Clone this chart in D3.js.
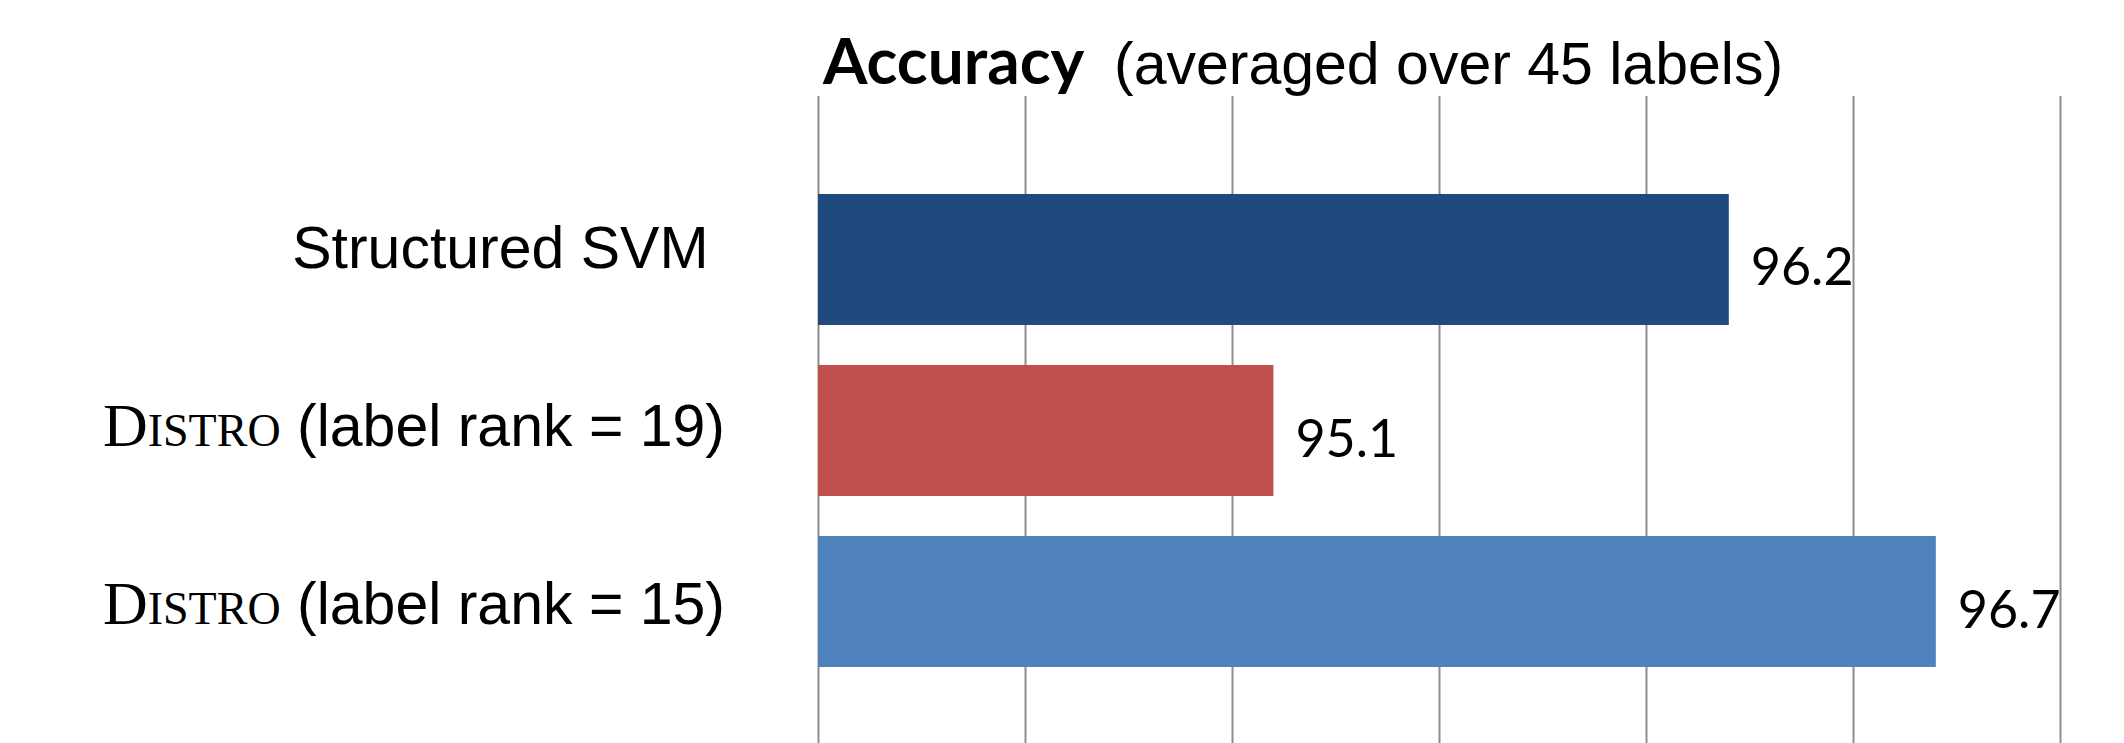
<!DOCTYPE html>
<html>
<head>
<meta charset="utf-8">
<script src="https://cdn.jsdelivr.net/npm/d3@7"></script>
<style>
  html, body { margin: 0; padding: 0; background: #ffffff; }
  svg { display: block; }
</style>
</head>
<body>
<svg id="chart" width="2124" height="743"></svg>
<script>
// ---- data ----
const categories = ["Structured SVM ", "Distro (label rank = 19)", "Distro (label rank = 15)"];
const accuracy = [96.2, 95.1, 96.7];
const barColors = ["#204A7D", "#C0504D", "#4F81BD"];
const xTicks = [94, 94.5, 95, 95.5, 96, 96.5, 97];
const xDomain = [94, 97];
const titleBold = "Accuracy";
const titleRest = "(averaged over 45 labels)";

// ---- layout ----
const W = 2124, H = 743;
const svg = d3.select("#chart");

const x = d3.scaleLinear().domain(xDomain).range([818, 2060]);
const y = d3.scaleBand().domain(categories).range([96, 765])
  .paddingInner(0.234).paddingOuter(0.573);
const yLabel = d3.scalePoint().domain(categories).range([268, 624]);

// gridlines via axis
const grid = svg.append("g")
  .attr("transform", `translate(0,${H + 10})`)
  .call(d3.axisTop(x).tickValues(xTicks).tickSize(H + 10 - 96).tickFormat(""));
grid.select(".domain").remove();
grid.selectAll(".tick line").attr("stroke", "#8e8e8e").attr("stroke-width", 2);

// bars
svg.append("g").selectAll("rect")
  .data(categories)
  .join("rect")
  .attr("x", x(xDomain[0]))
  .attr("y", d => y(d))
  .attr("width", (d, i) => x(accuracy[i]) - x(xDomain[0]))
  .attr("height", y.bandwidth())
  .attr("fill", (d, i) => barColors[i]);

// value labels
svg.append("g").selectAll("text")
  .data(categories)
  .join("text")
  .attr("x", (d, i) => x(accuracy[i]) + 22)
  .attr("y", d => y(d) + y.bandwidth() / 2 + 26)
  .attr("font-family", "Lato, 'Open Sans', sans-serif")
  .attr("font-size", 52)
  .attr("fill", "#000")
  .text((d, i) => accuracy[i].toFixed(1));

// category labels
const lab = svg.append("g").selectAll("text")
  .data(categories)
  .join("text")
  .attr("x", 725)
  .attr("y", d => yLabel(d))
  .attr("text-anchor", "end")
  .attr("fill", "#000")
  .style("white-space", "pre")
  .attr("font-family", "'Liberation Sans', Arial, sans-serif")
  .attr("font-size", 59);

lab.each(function(d) {
  const t = d3.select(this);
  if (d.startsWith("Distro")) {
    const word = "Distro";
    const rest = d.slice(word.length);
    t.append("tspan")
      .attr("font-family", "'Liberation Serif', 'Times New Roman', serif")
      .attr("font-size", 62)
      .text(word[0].toUpperCase());
    t.append("tspan")
      .attr("font-family", "'Liberation Serif', 'Times New Roman', serif")
      .attr("font-size", 46)
      .text(word.slice(1).toUpperCase());
    t.append("tspan").text(rest);
  } else {
    t.append("tspan").text(d);
  }
});

// title
const title = svg.append("text")
  .attr("x", 823)
  .attr("y", 84)
  .attr("fill", "#000");
title.append("tspan")
  .attr("font-family", "Lato, 'Open Sans', sans-serif")
  .attr("font-weight", "bold")
  .attr("font-size", 64)
  .text(titleBold);
title.append("tspan")
  .attr("x", 1114)
  .attr("font-family", "'Liberation Sans', Arial, sans-serif")
  .attr("font-size", 59)
  .text(titleRest);
</script>
</body>
</html>
